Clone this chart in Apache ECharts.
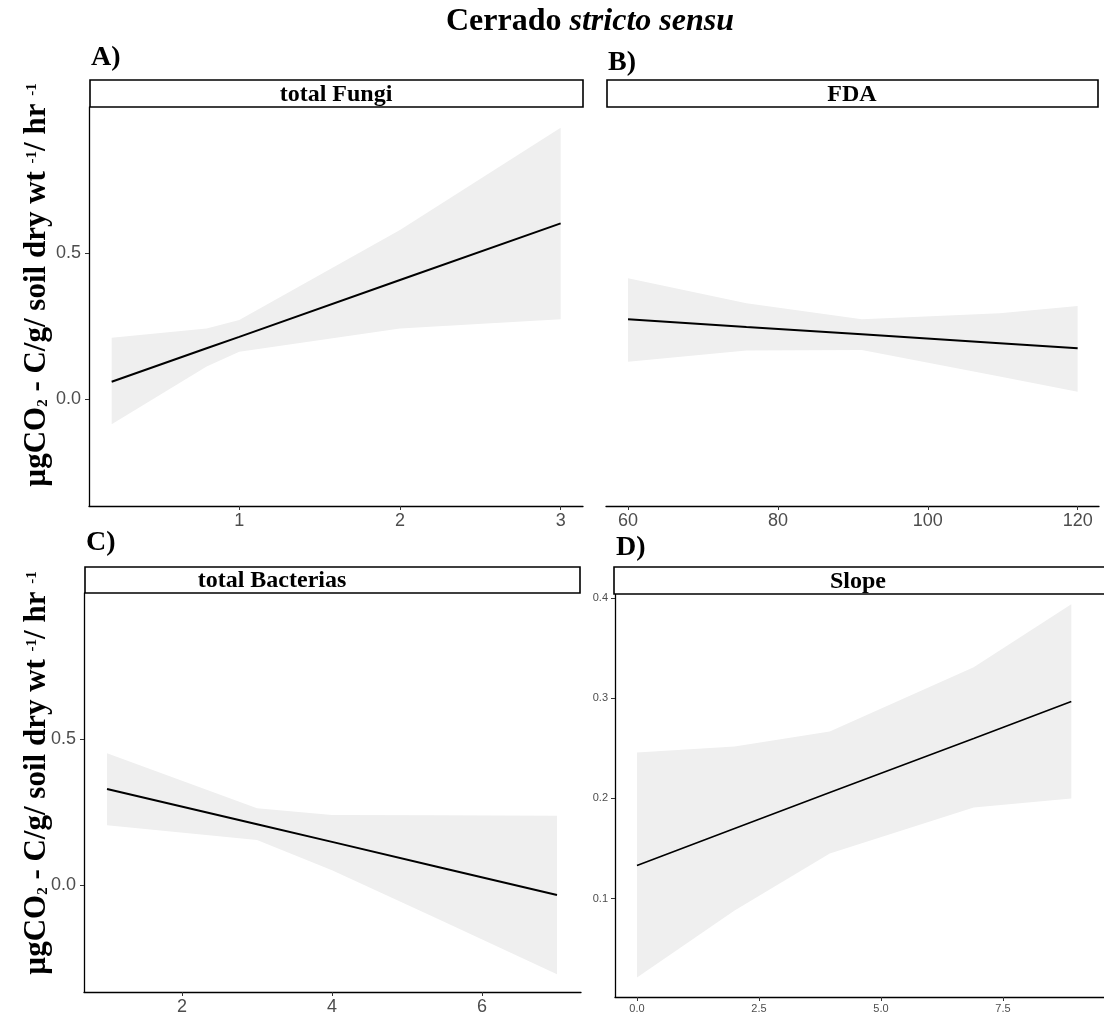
<!DOCTYPE html>
<html>
<head>
<meta charset="utf-8">
<script src="https://cdn.jsdelivr.net/npm/echarts@6/dist/echarts.min.js"></script>
<style>
  html, body { margin: 0; padding: 0; background: #ffffff; }
  #chart { width: 1104px; height: 1019px; }
</style>
</head>
<body>
<div id="chart"></div>
<script>
// A) total Fungi: fitted line and confidence band
const fungiX     = [0.206, 0.797, 1.0, 2.0, 3.0];
const fungiFit   = [0.059, 0.174, 0.213, 0.408, 0.602];
const fungiLower = [-0.087, 0.111, 0.162, 0.242, 0.273];
const fungiUpper = [0.210, 0.242, 0.271, 0.579, 0.930];

// B) FDA
const fdaX     = [60, 75.8, 91.2, 109.6, 120];
const fdaFit   = [0.273, 0.247, 0.222, 0.191, 0.174];
const fdaLower = [0.128, 0.166, 0.168, 0.077, 0.025];
const fdaUpper = [0.414, 0.328, 0.273, 0.294, 0.319];

// C) total Bacterias
const bactX     = [1, 3, 4, 5.4, 7];
const bactFit   = [0.329, 0.208, 0.148, 0.063, -0.034];
const bactLower = [0.205, 0.154, 0.051, -0.114, -0.305];
const bactUpper = [0.451, 0.263, 0.240, 0.239, 0.237];

// D) Slope
const slopeX     = [0, 2.0, 3.95, 6.9, 8.9];
const slopeFit   = [0.133, 0.170, 0.206, 0.260, 0.297];
const slopeLower = [0.021, 0.088, 0.145, 0.191, 0.200];
const slopeUpper = [0.246, 0.252, 0.267, 0.331, 0.394];

// Tick labels
const fungiTicks = [1, 2, 3];
const fdaTicks   = [60, 80, 100, 120];
const bactTicks  = [2, 4, 6];
const slopeXTicks = [0, 2.5, 5, 7.5];
const respTicks  = [0, 0.5];
const slopeYTicks = [0.1, 0.2, 0.3, 0.4];

const SERIF = '"Liberation Serif", "Times New Roman", serif';
const SANS = '"Liberation Sans", Arial, sans-serif';
const TICK_COLOR = '#4d4d4d';

function zip(xs, ys) { return xs.map((x, i) => [x, ys[i]]); }

function band(idx, xs, lo, hi) {
  return {
    type: 'custom',
    xAxisIndex: idx, yAxisIndex: idx,
    silent: true, z: 1,
    data: xs.map((x, i) => [x, lo[i], hi[i]]),
    encode: { x: 0, y: [1, 2] },
    renderItem: function (params, api) {
      if (params.dataIndex !== 0) return null;
      const pts = [];
      for (let i = 0; i < xs.length; i++) pts.push(api.coord([xs[i], hi[i]]));
      for (let i = xs.length - 1; i >= 0; i--) pts.push(api.coord([xs[i], lo[i]]));
      return { type: 'polygon', shape: { points: pts }, style: { fill: '#efefef' } };
    }
  };
}

function fit(idx, xs, ys, w) {
  return {
    type: 'line', xAxisIndex: idx, yAxisIndex: idx,
    data: zip(xs, ys), showSymbol: false, silent: true, z: 3,
    lineStyle: { color: '#000', width: w }
  };
}

function xAxis(idx, min, max, ticks, fs, fmt, margin) {
  return {
    type: 'value', gridIndex: idx, min: min, max: max,
    splitLine: { show: false },
    axisLine: { show: true, onZero: false, lineStyle: { color: '#000', width: 1.3 } },
    axisTick: { show: true, customValues: ticks, length: 4, lineStyle: { color: '#333' } },
    axisLabel: { customValues: ticks, color: TICK_COLOR, fontFamily: SANS, fontSize: fs, margin: margin,
                 formatter: fmt }
  };
}

function yAxis(idx, min, max, ticks, fs, show, fmt, margin) {
  return {
    type: 'value', gridIndex: idx, min: min, max: max,
    splitLine: { show: false },
    axisLine: { show: show, onZero: false, lineStyle: { color: '#000', width: 1.3 } },
    axisTick: { show: show, customValues: ticks, length: 4, lineStyle: { color: '#333' } },
    axisLabel: { show: show, customValues: ticks, color: TICK_COLOR, fontFamily: SANS, fontSize: fs,
                 margin: margin, formatter: fmt }
  };
}

const one = v => v.toFixed(1);
const plain = v => String(v);

function strip(x, y, w, h, label, cx) {
  return [
    { type: 'rect', z: 10, shape: { x: x, y: y, width: w, height: h },
      style: { fill: '#fff', stroke: '#000', lineWidth: 1.6 } },
    { type: 'text', z: 11, x: cx, y: y + h / 2 + 1,
      style: { text: label, font: 'bold 24px ' + SERIF, fill: '#000', align: 'center', verticalAlign: 'middle' } }
  ];
}

function panelTag(x, y, label) {
  return { type: 'text', z: 11, x: x, y: y,
    style: { text: label, font: 'bold 28px ' + SERIF, fill: '#000', align: 'left', verticalAlign: 'bottom' } };
}

function yTitle(cy) {
  return {
    type: 'text', z: 11, x: 37, y: cy, rotation: Math.PI / 2,
    style: {
      text: '{a|µgCO}{s|2}{a| - C/g/ soil dry wt }{p|-1}{a|/ hr }{p|-1}',
      align: 'center', verticalAlign: 'middle',
      rich: {
        a: { font: 'bold 31px ' + SERIF, fill: '#000', lineHeight: 38, verticalAlign: 'middle' },
        s: { font: 'bold 15px ' + SERIF, fill: '#000', lineHeight: 38, verticalAlign: 'bottom', padding: [0, 0, 5, 0] },
        p: { font: 'bold 15px ' + SERIF, fill: '#000', lineHeight: 38, verticalAlign: 'top', padding: [7, 0, 0, 0] }
      }
    }
  };
}

const chart = echarts.init(document.getElementById('chart'), null, { renderer: 'canvas' });

chart.setOption({
  backgroundColor: '#ffffff',
  animation: false,
  grid: [
    { left: 89,  top: 107, width: 494, height: 399 },
    { left: 606, top: 107, width: 493, height: 399 },
    { left: 84,  top: 593, width: 497, height: 399 },
    { left: 615, top: 594, width: 489, height: 403 }
  ],
  xAxis: [
    xAxis(0, 0.065, 3.139, fungiTicks, 18, plain, 6),
    xAxis(1, 57.06, 122.85, fdaTicks, 18, plain, 6),
    xAxis(2, 0.693, 7.32, bactTicks, 18, plain, 6),
    xAxis(3, -0.45, 9.57, slopeXTicks, 11, one, 6)
  ],
  yAxis: [
    yAxis(0, -0.367, 1.001, respTicks, 18, true, one, 8),
    yAxis(1, -0.367, 1.001, respTicks, 18, false, one, 8),
    yAxis(2, -0.366, 1.0, respTicks, 18, true, one, 8),
    yAxis(3, 0.0016, 0.4043, slopeYTicks, 11, true, one, 7)
  ],
  series: [
    band(0, fungiX, fungiLower, fungiUpper), fit(0, fungiX, fungiFit, 2),
    band(1, fdaX, fdaLower, fdaUpper),       fit(1, fdaX, fdaFit, 2),
    band(2, bactX, bactLower, bactUpper),    fit(2, bactX, bactFit, 2),
    band(3, slopeX, slopeLower, slopeUpper), fit(3, slopeX, slopeFit, 1.6)
  ],
  graphic: [
    { type: 'text', z: 11, x: 590, y: 22,
      style: {
        text: '{r|Cerrado }{i|stricto sensu}', align: 'center', verticalAlign: 'middle',
        rich: {
          r: { font: 'bold 32px ' + SERIF, fill: '#000' },
          i: { font: 'italic bold 32px ' + SERIF, fill: '#000' }
        }
      } },
    panelTag(91, 72, 'A)'),
    panelTag(608, 77, 'B)'),
    panelTag(86, 557, 'C)'),
    panelTag(616, 562, 'D)'),
    ...strip(90, 80, 493, 27, 'total Fungi', 336),
    ...strip(607, 80, 491, 27, 'FDA', 852),
    ...strip(85, 567, 495, 26, 'total Bacterias', 272),
    ...strip(614, 567, 492, 27, 'Slope', 858),
    yTitle(285),
    yTitle(773)
  ]
});
</script>
</body>
</html>
